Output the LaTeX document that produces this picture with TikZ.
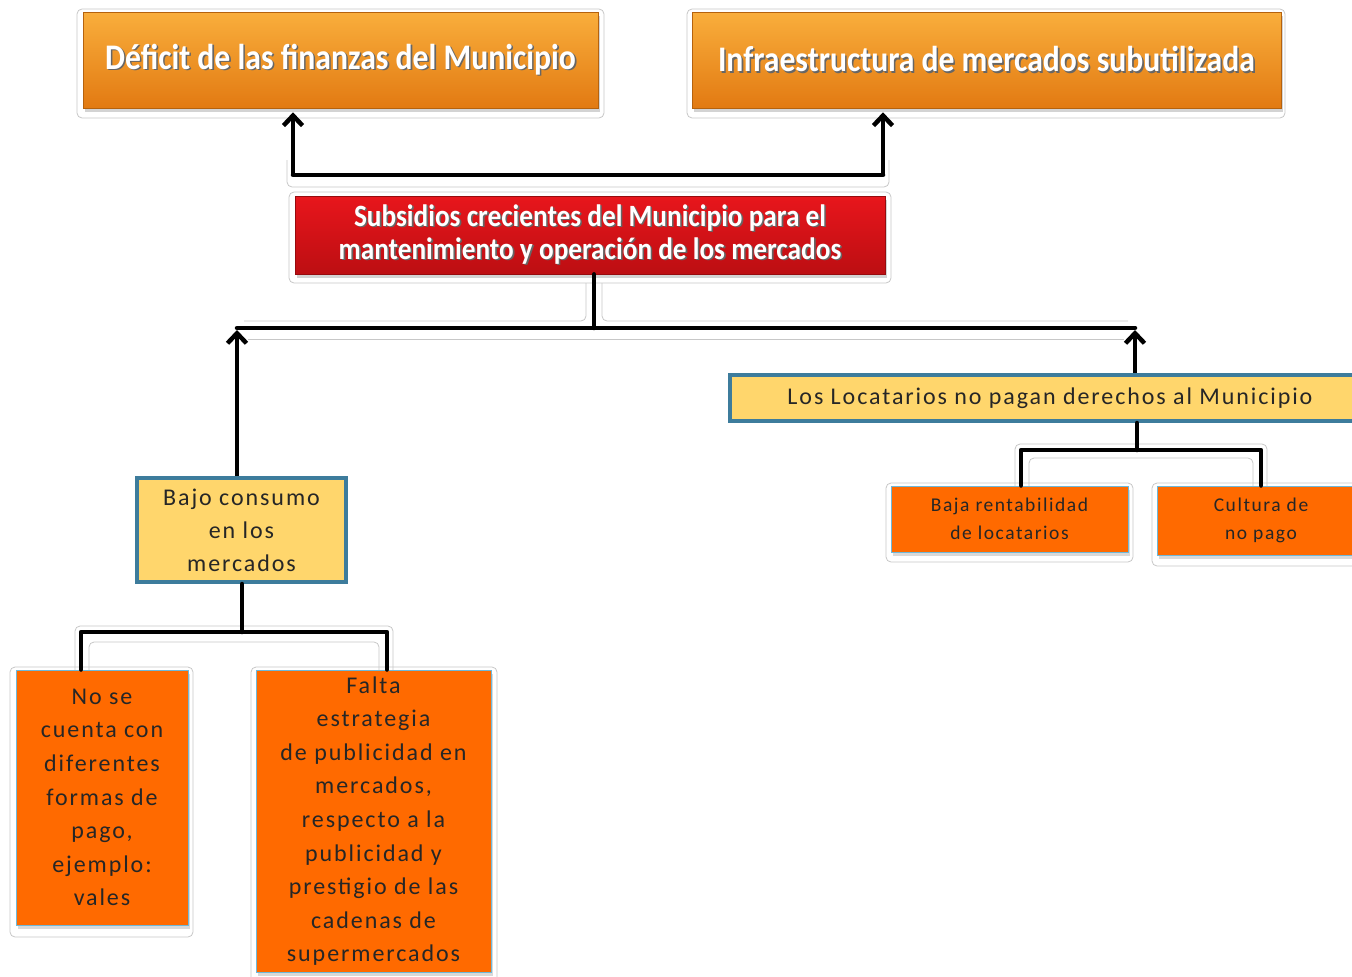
\documentclass[tikz,border=0pt]{standalone}
\usepackage{fontspec}
\setmainfont{Carlito}
\newfontfamily\titlefont[FakeStretch=0.88]{Carlito}
\newfontfamily\bodyfont[LetterSpace=8]{Carlito}
\usetikzlibrary{arrows.meta,shadows}
\definecolor{orgtop}{HTML}{F9AE3C}
\definecolor{orgbot}{HTML}{E27A12}
\definecolor{redtop}{HTML}{E8161C}
\definecolor{redbot}{HTML}{BC0E12}
\definecolor{yel}{HTML}{FFD66C}
\definecolor{blueb}{HTML}{3D7C9C}
\definecolor{org}{HTML}{FF6A00}
\definecolor{orgb}{HTML}{6FB8D8}
\newcommand{\shd}[1]{\leavevmode\rlap{\kern1.6pt\raisebox{-1.6pt}{\textcolor{black!60}{#1}}}\textcolor{white}{#1}}
\begin{document}
\begin{tikzpicture}[x=1pt,y=-1pt,
  tbox/.style={draw=orgbot!80!black, line width=0.6pt, top color=orgtop, bottom color=orgbot,
    drop shadow={shadow xshift=1.5pt,shadow yshift=-4pt,opacity=0.35},
    inner sep=0pt, align=center, font=\titlefont\bfseries\fontsize{36}{40}\selectfont},
  rbox/.style={draw=redbot!80!black, line width=0.6pt, top color=redtop, bottom color=redbot,
    drop shadow={shadow xshift=1.5pt,shadow yshift=-4pt,opacity=0.35},
    inner sep=0pt, align=center, font=\titlefont\bfseries\fontsize{31}{33}\selectfont},
  ybox/.style={draw=blueb, line width=4pt, fill=yel, inner sep=0pt, align=center,
    text=black!85, font=\bodyfont\fontsize{24}{33}\selectfont},
  obox/.style={draw=orgb, line width=1pt, fill=org, inner sep=0pt, align=center,
    text=black!85, font=\bodyfont\fontsize{24}{33.6}\selectfont,
    drop shadow={shadow xshift=1.5pt,shadow yshift=-4pt,opacity=0.3}},
  sbox/.style={obox, font=\bodyfont\fontsize{19.5}{28}\selectfont},
  framec/.style={draw=black!22, line width=0.8pt, rounded corners=5pt},
  con/.style={line width=4.5pt, line cap=round, line join=round},
  arr/.style={con, -{Straight Barb[length=10pt,width=19pt]}, line cap=butt}
]
\useasboundingbox (0,0) rectangle (1352,977);

% faint frames
\draw[framec] (77,9) rectangle (604,118);
\draw[framec] (687,9) rectangle (1285,118);
\draw[framec] (289,192) rectangle (891,283);
\draw[framec] (886,483) rectangle (1133,562);
\draw[framec] (1152,483) rectangle (1370,566);
\draw[framec] (10,667) rectangle (193,937);
\draw[framec] (251,667) rectangle (497,990);
\draw[framec] (287,160) -- (287,187) -- (889,187) -- (889,160);
\draw[framec] (586,283) -- (586,321) -- (244,321);
\draw[framec] (602,283) -- (602,321) -- (1128,321);
\draw[framec] (248,339) -- (1124,339);
\draw[framec] (1015,486) -- (1015,444) -- (1267,444) -- (1267,486);
\draw[framec] (1029,486) -- (1029,458) -- (1253,458) -- (1253,486);
\draw[framec] (75,670) -- (75,626) -- (393,626) -- (393,670);
\draw[framec] (89,670) -- (89,642) -- (379,642) -- (379,670);

% boxes
\node[tbox, minimum width=515, minimum height=96] (d1) at (340.5,60)
  {\shd{Déficit de las finanzas del Municipio}};
\node[tbox, minimum width=589, minimum height=96] (d2) at (986.5,60)
  {\shd{Infraestructura de mercados subutilizada}};
\node[rbox, minimum width=590, minimum height=78] (sub) at (590,235)
  {\shd{Subsidios crecientes del Municipio para el}\\\shd{mantenimiento y operación de los mercados}};
\node[ybox, minimum width=640, minimum height=46] (loc) at (1050,398)
  {Los Locatarios no  pagan derechos al Municipio};
\node[ybox, minimum width=209, minimum height=104] (bajo) at (241.5,530)
  {Bajo consumo\\en los\\mercados};
\node[sbox, minimum width=237, minimum height=66] (baja) at (1009.5,519)
  {Baja rentabilidad\\de locatarios};
\node[sbox, minimum width=208, minimum height=69] (cult) at (1261,520.5)
  {Cultura de\\no pago};
\node[obox, minimum width=172, minimum height=255] (nose) at (102,797.5)
  {No se\\cuenta con\\diferentes\\formas de\\pago,\\ejemplo:\\vales};
\node[obox, minimum width=235, minimum height=302] (falta) at (373.5,821)
  {Falta\\estrategia\\de publicidad en\\mercados,\\respecto a la\\publicidad y\\prestigio de las\\cadenas de\\supermercados};

% junction coordinates
\coordinate (c1) at (293,175);
\coordinate (c2) at (883,175);
\coordinate (j1) at (594,328);
\coordinate (j2) at (237,328);
\coordinate (j3) at (1135,328);
\coordinate (j4) at (1137,450);
\coordinate (k1) at (1021,450);
\coordinate (k2) at (1261,450);
\coordinate (j5) at (242,632);
\coordinate (m1) at (81,632);
\coordinate (m2) at (387,632);

% connectors
\draw[con] (c1) -- (c2);
\draw[arr] (c1) -- ([yshift=-4pt]c1 |- d1.south);
\draw[arr] (c2) -- ([yshift=-4pt]c2 |- d2.south);

\draw[con] (j1 |- sub.south) -- (j1);
\draw[con] (j2) -- (j3);
\draw[arr] (j2 |- bajo.north) -- ([yshift=-2pt]j2);
\draw[arr] (j3 |- loc.north) -- ([yshift=-2pt]j3);

\draw[con] (j4 |- loc.south) -- (j4);
\draw[con] (k1 |- baja.north) -- (k1) -- (k2) -- (k2 |- cult.north);

\draw[con] (j5 |- bajo.south) -- (j5);
\draw[con] (m1 |- nose.north) -- (m1) -- (m2) -- (m2 |- falta.north);
\end{tikzpicture}
\end{document}
